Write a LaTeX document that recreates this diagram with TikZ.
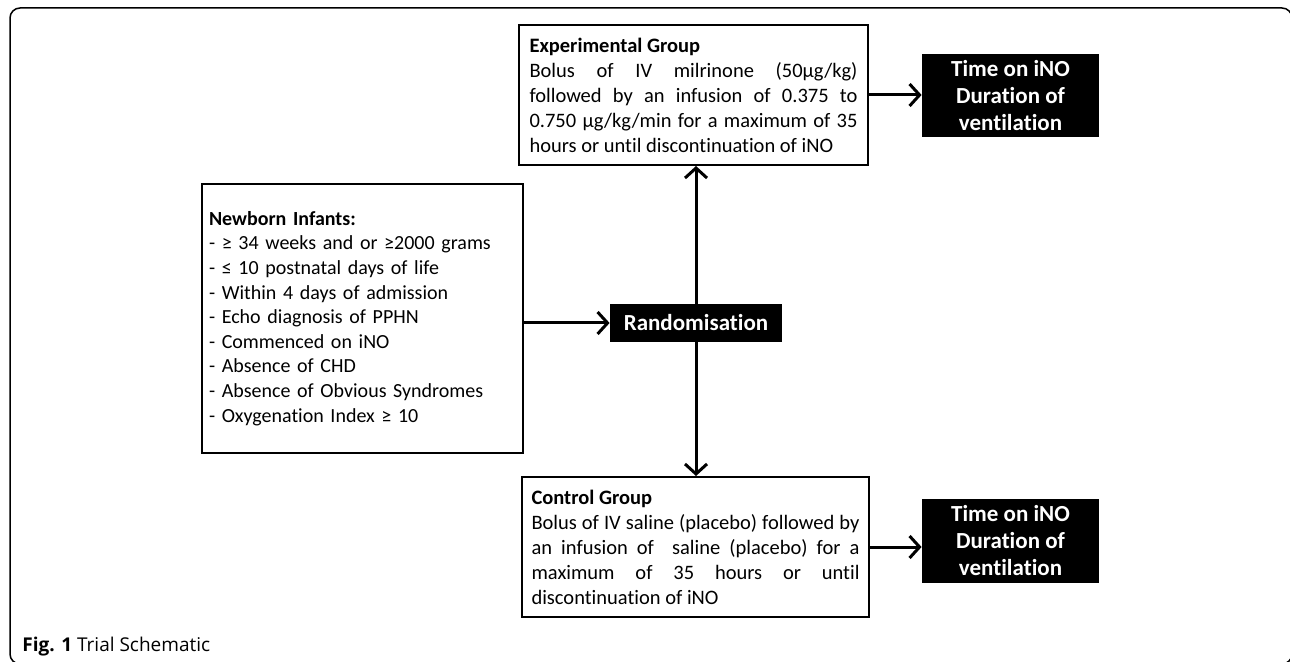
\documentclass[tikz,border=0pt]{standalone}
\usepackage{fontspec}
\setmainfont[Ligatures=NoCommon]{Carlito}
\newfontfamily\capfont{Open Sans}
\usetikzlibrary{arrows.meta}
\begin{document}
\begin{tikzpicture}[x=0.5pt,y=-0.5pt,
    box/.style = {draw,line width=1pt,inner xsep=4.5pt,align=justify,
        font=\fontsize{10.25}{12.5}\selectfont},
    outcome/.style = {fill=black,text=white,align=center,
        font=\bfseries\fontsize{11.5}{13.5}\selectfont},
    arrow/.style = {line width=1.5pt,-{Straight Barb[length=5pt,width=11pt]}}]
    \useasboundingbox (0,0) rectangle (1290,662);
    \draw[line width=0.75pt,rounded corners=5pt] (10,8) rectangle (1292,664);

    \node[box,align=left,text width=153.5pt,inner xsep=3.5pt,minimum width=160.5pt,
        minimum height=134.5pt,font=\fontsize{10}{12.3}\selectfont]
        (infants) at (362.5,318.5) {\textbf{Newborn Infants:}\\
        - ≥ 34 weeks and or ≥2000 grams\\
        - ≤ 10 postnatal days of life\\
        - Within 4 days of admission\\
        - Echo diagnosis of PPHN\\
        - Commenced on iNO\\
        - Absence of CHD\\
        - Absence of Obvious Syndromes\\
        - Oxygenation Index ≥ 10};

    \node[outcome,minimum width=86pt,minimum height=19pt] (random) at (696,323) {Randomisation};

    \node[box,text width=164pt,minimum width=174.5pt,minimum height=70pt]
        (expgroup) at (693.5,95) {\textbf{Experimental Group}\\
        Bolus of IV milrinone (50µg/kg)\linebreak
        followed by an infusion of 0.375 to\linebreak
        0.750 µg/kg/min for a maximum of 35\linebreak
        hours or until discontinuation of iNO};

    \node[box,text width=164pt,minimum width=173.5pt,minimum height=70pt]
        (ctrlgroup) at (695.5,547) {\textbf{Control Group}\\
        Bolus of IV saline (placebo) followed by\linebreak
        an infusion of~ saline (placebo) for a\linebreak
        maximum of 35 hours or until\linebreak
        discontinuation of iNO};

    \node[outcome,minimum width=88.5pt,minimum height=40.5pt] (outexp) at (1010.5,95.5)
        {Time on iNO\\Duration of\\ventilation};
    \node[outcome,minimum width=88.5pt,minimum height=40pt] (outctrl) at (1010.5,541)
        {Time on iNO\\Duration of\\ventilation};

    \draw[arrow] (infants.east |- random.west) -- (random.west);
    \draw[arrow] (random.north) -- (random.north |- expgroup.south);
    \draw[arrow] (random.south) -- (random.south |- ctrlgroup.north);
    \draw[arrow] (expgroup.east) -- (expgroup.east -| outexp.west);
    \draw[arrow] (ctrlgroup.east) -- (ctrlgroup.east -| outctrl.west);

    \node[anchor=base west,inner sep=0pt,font=\capfont\fontsize{9.5}{11}\selectfont]
        (caption) at (22,651) {\textbf{Fig. 1} Trial Schematic};
\end{tikzpicture}
\end{document}
